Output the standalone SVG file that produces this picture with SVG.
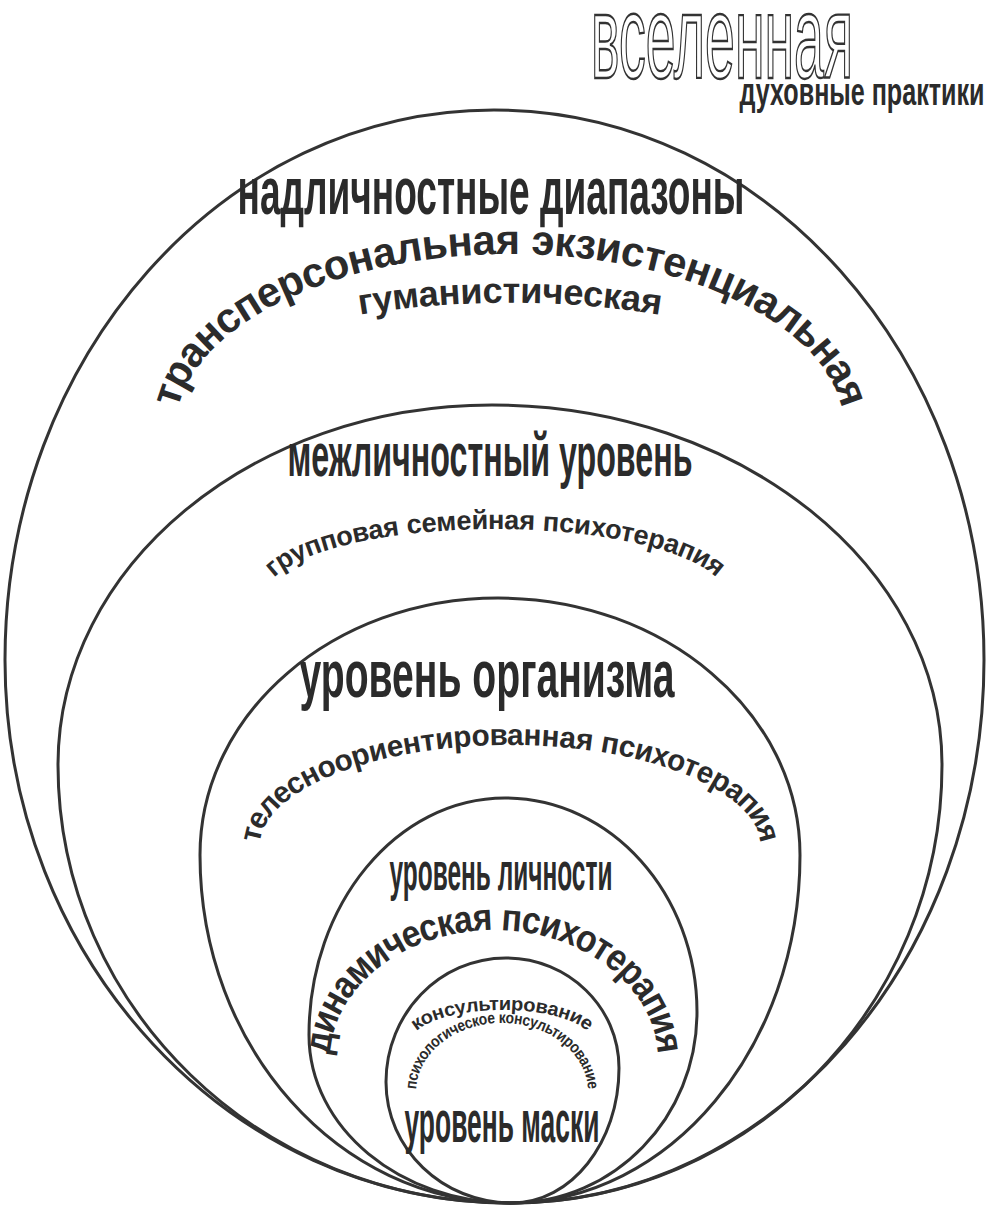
<svg xmlns="http://www.w3.org/2000/svg" width="989" height="1208" viewBox="0 0 989 1208">
<style>
.ring{fill:none;stroke:#333;stroke-width:3}
.t{font-family:"Liberation Sans",Arial,sans-serif;font-weight:bold;fill:#2b2b2b}
.c{text-anchor:middle}
.arc{dominant-baseline:middle}
.hollow{font-family:"Liberation Sans",Arial,sans-serif;fill:#fff;stroke:#333;stroke-width:2.4;text-anchor:middle}
</style>
<defs>
<path id="p_trans" d="M165,428 A345,185 0 0 1 855,428"/>
<path id="p_gum" d="M320,312 A943,943 0 0 1 700,312"/>
<path id="p_grup" d="M260,592 A235,70 0 0 1 730,592"/>
<path id="p_tel" d="M252,845 A258,108 0 0 1 768,845"/>
<path id="p_dyn" d="M320,1060 A174,140 0 0 1 668,1060"/>
<path id="p_kons" d="M407,1040 A95,35 0 0 1 597,1040"/>
<path id="p_psy" d="M412,1092 A90,73 0 0 1 592,1092"/>
</defs>
<rect width="989" height="1208" fill="#fff"/>

<g id="universe">
<text class="hollow" x="722" y="78" font-size="118" textLength="262" lengthAdjust="spacingAndGlyphs">вселенная</text>
<text class="t c" x="862" y="105" font-size="38" textLength="245" lengthAdjust="spacingAndGlyphs">духовные практики</text>
</g>

<g id="level-transpersonal">
<path class="ring" d="M494,110 C764.6,110 984,356.2 984,660 C984,959.9 771.8,1203 510,1203 C231.1,1203 5,959.9 5,660 C5,356.2 223.9,110 494,110 Z"/>
<text class="t c" x="491" y="214" font-size="66" textLength="507" lengthAdjust="spacingAndGlyphs" fill="#333">надличностные диапазоны</text>
<text class="t arc" font-size="42"><textPath href="#p_trans" startOffset="50%" text-anchor="middle" textLength="805" lengthAdjust="spacingAndGlyphs">трансперсональная экзистенциальная</textPath></text>
<text class="t arc" font-size="36"><textPath href="#p_gum" startOffset="50%" text-anchor="middle" textLength="305" lengthAdjust="spacingAndGlyphs">гуманистическая</textPath></text>
</g>

<g id="level-interpersonal">
<path class="ring" d="M492,405 C740.5,405 942,566.2 942,765 C942,1006.9 748.6,1203 510,1203 C260.4,1203 58,1006.9 58,765 C58,566.2 252.3,405 492,405 Z"/>
<text class="t c" x="490" y="476" font-size="62" textLength="405" lengthAdjust="spacingAndGlyphs">межличностный уровень</text>
<text class="t arc" font-size="27"><textPath href="#p_grup" startOffset="50%" text-anchor="middle" textLength="470" lengthAdjust="spacingAndGlyphs">групповая семейная психотерапия</textPath></text>
</g>

<g id="level-organism">
<path class="ring" d="M498,598 C664.8,598 800,713.1 800,855 C800,1047.2 670.2,1203 510,1203 C338.8,1203 200,1047.2 200,855 C200,713.1 333.4,598 498,598 Z"/>
<text class="t c" x="487" y="697" font-size="66" textLength="375" lengthAdjust="spacingAndGlyphs">уровень организма</text>
<text class="t arc" font-size="30"><textPath href="#p_tel" startOffset="50%" text-anchor="middle" textLength="592" lengthAdjust="spacingAndGlyphs">телесноориентированная психотерапия</textPath></text>
</g>

<g id="level-personality">
<path class="ring" d="M505,798 C611,798 697,893.8 697,1012 C697,1117.5 614.2,1203 512,1203 C399.9,1203 309,1127.8 309,1035 C309,904.1 396.7,798 505,798 Z"/>
<text class="t c" x="501" y="890" font-size="54" textLength="223" lengthAdjust="spacingAndGlyphs">уровень личности</text>
<text class="t arc" font-size="38"><textPath href="#p_dyn" startOffset="50%" text-anchor="middle" textLength="480" lengthAdjust="spacingAndGlyphs">динамическая психотерапия</textPath></text>
</g>

<g id="level-mask">
<path class="ring" d="M506,958 C568.4,958 619,1007.2 619,1068 C619,1142.6 571.1,1203 512,1203 C442.4,1203 386,1148.8 386,1082 C386,1013.5 439.7,958 506,958 Z"/>
<text class="t arc" font-size="19"><textPath href="#p_kons" startOffset="50%" text-anchor="middle" textLength="185" lengthAdjust="spacingAndGlyphs">консультирование</textPath></text>
<text class="t arc" font-size="16"><textPath href="#p_psy" startOffset="50%" text-anchor="middle" textLength="250" lengthAdjust="spacingAndGlyphs">психологическое консультирование</textPath></text>
<text class="t c" x="502" y="1142" font-size="60" textLength="195" lengthAdjust="spacingAndGlyphs">уровень маски</text>
</g>

<g id="connectors"/>
</svg>
